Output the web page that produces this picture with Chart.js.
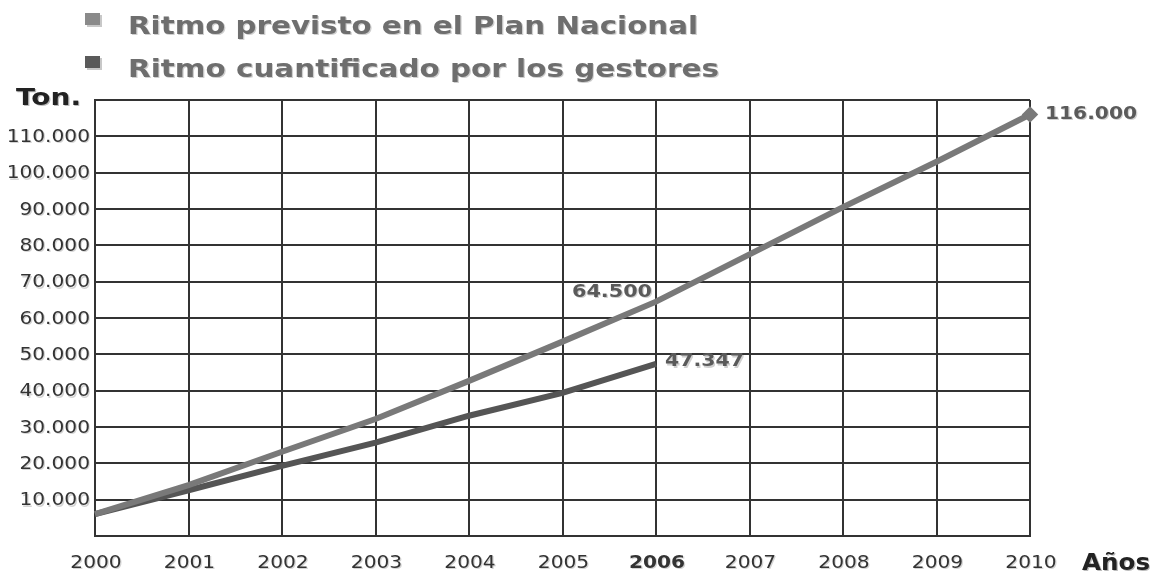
<!DOCTYPE html>
<html>
<head>
<meta charset="utf-8">
<script src="https://cdn.jsdelivr.net/npm/chart.js@4.4.1/dist/chart.umd.min.js"></script>
<style>
  html, body { margin: 0; padding: 0; background: #fff; }
  #wrap { width: 1158px; height: 571px; position: relative; }
</style>
</head>
<body>
<div id="wrap"><canvas id="chart" width="1158" height="571"></canvas></div>
<script>
// chart data
const years = ['2000', '2001', '2002', '2003', '2004', '2005', '2006', '2007', '2008', '2009', '2010'];
const planNacional = [6000, 14000, 23200, 32200, 42700, 53500, 64500, 77500, 90500, 103000, 116000];
const gestores = [6000, 12600, 19300, 25700, 33100, 39400, 47347];
const seriesNames = ['Ritmo previsto en el Plan Nacional', 'Ritmo cuantificado por los gestores'];
const seriesColors = ['#797979', '#555555'];
const yTicks = [10000, 20000, 30000, 40000, 50000, 60000, 70000, 80000, 90000, 100000, 110000];

const FONT = '"DejaVu Sans", Verdana, sans-serif';
const TICK_STRETCH = 1.12;
const fmt = v => v.toLocaleString('de-DE');

// the original lettering is stretched sideways, so draw text with a horizontal scale
function wideText(ctx, text, x, y, width, align) {
    const w = ctx.measureText(text).width;
    const sx = width ? width / w : TICK_STRETCH;
    ctx.save();
    ctx.translate(x, y);
    ctx.scale(sx, 1);
    ctx.textAlign = align || 'left';
    ctx.fillText(text, 0, 0);
    ctx.restore();
}

function shadowText(ctx, text, x, y, width, align, color, shadow) {
    ctx.fillStyle = shadow;
    wideText(ctx, text, x + 1.2, y + 1.2, width, align);
    ctx.fillStyle = color;
    wideText(ctx, text, x, y, width, align);
}

const decorations = {
    id: 'decorations',
    afterDraw(chart) {
        const ctx = chart.ctx;
        const xs = chart.scales.x;
        const ys = chart.scales.y;
        ctx.save();

        // tick labels
        ctx.textBaseline = 'alphabetic';
        years.forEach((yr, i) => {
            ctx.font = (i === 6 ? 'bold ' : '') + '18px ' + FONT;
            shadowText(ctx, yr, xs.getPixelForValue(i) + 1, 568, 0, 'center', '#333', '#d4d4d4');
        });
        ctx.textBaseline = 'middle';
        ctx.font = '18px ' + FONT;
        yTicks.forEach(v => {
            shadowText(ctx, fmt(v), 90, ys.getPixelForValue(v) + 1, 0, 'right', '#333', '#d4d4d4');
        });

        // legend
        ctx.textBaseline = 'alphabetic';
        const legendY = [34, 77];
        const legendW = [570, 591];
        seriesNames.forEach((name, i) => {
            const y = legendY[i];
            ctx.fillStyle = '#c8c8c8';
            ctx.fillRect(87, y - 19, 15, 12);
            ctx.fillStyle = i === 0 ? '#8a8a8a' : '#5a5a5a';
            ctx.fillRect(85, y - 21, 15, 12);
            ctx.font = 'bold 24px ' + FONT;
            shadowText(ctx, name, 128, y, legendW[i], 'left', '#6e6e6e', '#cfcfcf');
        });

        // axis titles
        ctx.font = 'bold 23px ' + FONT;
        shadowText(ctx, 'Ton.', 16, 105, 65, 'left', '#222', '#bbb');
        shadowText(ctx, 'Años', 1082, 570, 68, 'left', '#222', '#bbb');

        // value labels
        const m0 = chart.getDatasetMeta(0).data;
        const m1 = chart.getDatasetMeta(1).data;
        ctx.font = 'bold 17px ' + FONT;
        ctx.textBaseline = 'middle';
        shadowText(ctx, fmt(planNacional[6]), m0[6].x - 4, m0[6].y - 9, 80, 'right', '#5a5a5a', '#d0d0d0');
        shadowText(ctx, fmt(gestores[6]), m1[6].x + 9, m1[6].y - 2, 79, 'left', '#5a5a5a', '#d0d0d0');
        shadowText(ctx, fmt(planNacional[10]), m0[10].x + 15, m0[10].y, 92, 'left', '#5a5a5a', '#d0d0d0');
        ctx.restore();
    }
};

const ctx = document.getElementById('chart').getContext('2d');

new Chart(ctx, {
    type: 'line',
    data: {
        labels: years,
        datasets: [{
            label: seriesNames[0],
            data: planNacional,
            borderColor: seriesColors[0],
            backgroundColor: seriesColors[0],
            borderWidth: 6,
            pointRadius: planNacional.map((v, i) => i === planNacional.length - 1 ? 4 : 0),
            pointStyle: 'rectRot',
            tension: 0
        }, {
            label: seriesNames[1],
            data: gestores,
            borderColor: seriesColors[1],
            backgroundColor: seriesColors[1],
            borderWidth: 6,
            pointRadius: 0,
            tension: 0
        }]
    },
    options: {
        responsive: false,
        animation: false,
        layout: { padding: { top: 100, right: 128, left: 0, bottom: 0 } },
        plugins: {
            legend: { display: false },
            tooltip: { enabled: false }
        },
        scales: {
            x: {
                offset: false,
                afterFit: s => { s.height = 35; },
                grid: { color: '#333', lineWidth: 2, drawTicks: false },
                border: { color: '#333', width: 2 },
                ticks: { display: false, autoSkip: false }
            },
            y: {
                min: 0,
                max: 120000,
                afterFit: s => { s.width = 95; },
                afterBuildTicks: s => { s.ticks = [0].concat(yTicks, [120000]).map(v => ({ value: v })); },
                grid: { color: '#333', lineWidth: 2, drawTicks: false },
                border: { color: '#333', width: 2 },
                ticks: { display: false }
            }
        }
    },
    plugins: [decorations]
});
</script>
</body>
</html>
